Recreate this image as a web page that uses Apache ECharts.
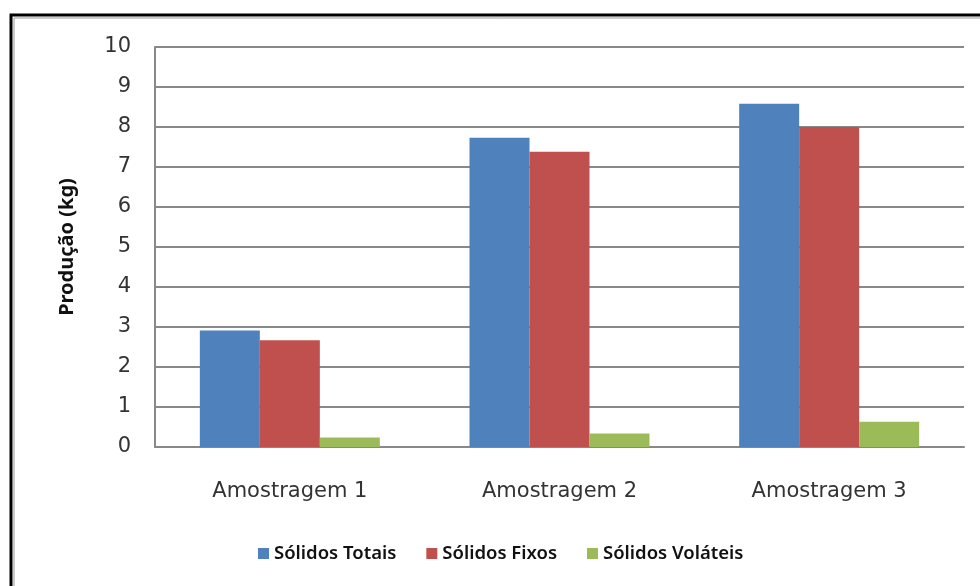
<!DOCTYPE html>
<html>
<head>
<meta charset="utf-8">
<script src="https://cdn.jsdelivr.net/npm/echarts@6/dist/echarts.min.js"></script>
<style>
html, body { margin: 0; padding: 0; background: #fff; }
#main { width: 980px; height: 586px; }
</style>
</head>
<body>
<div id="main"></div>
<script>
// dados
var categorias = ['Amostragem 1', 'Amostragem 2', 'Amostragem 3'];
var solidosTotais = [2.91, 7.73, 8.58];
var solidosFixos = [2.67, 7.38, 8.0];
var solidosVolateis = [0.24, 0.34, 0.63];
var nomesSeries = ['Sólidos Totais', 'Sólidos Fixos', 'Sólidos Voláteis'];

var myChart = echarts.init(document.getElementById('main'));

var option = {
    backgroundColor: '#fff',
    color: ['#4F81BD', '#C0504D', '#9BBB59'],
    graphic: [
        {
            type: 'rect',
            shape: { x: 11, y: 15, width: 1000, height: 600 },
            style: { fill: 'none', stroke: '#000', lineWidth: 3 }
        },
        {
            type: 'rect',
            shape: { x: 14, y: 18, width: 1000, height: 600 },
            style: { fill: 'none', stroke: '#999', lineWidth: 1 }
        }
    ],
    grid: { left: 155, top: 47, right: 16, bottom: 139 },
    legend: {
        data: nomesSeries,
        bottom: 18,
        left: 253,
        itemWidth: 11,
        itemHeight: 11,
        itemGap: 30,
        icon: 'rect',
        textStyle: { fontFamily: 'Noto Sans', fontWeight: 600, fontSize: 18.5, color: '#111' }
    },
    xAxis: {
        type: 'category',
        data: categorias,
        axisLine: { lineStyle: { color: '#888', width: 2 } },
        axisTick: { show: false },
        axisLabel: { fontFamily: 'DejaVu Sans', fontSize: 21, color: '#333', margin: 34 }
    },
    yAxis: {
        type: 'value',
        min: 0,
        max: 10,
        interval: 1,
        name: 'Produção (kg)',
        nameLocation: 'middle',
        nameGap: 78,
        nameTextStyle: { fontFamily: 'Noto Sans', fontWeight: 'bold', fontSize: 20, color: '#111' },
        axisLine: { show: true, lineStyle: { color: '#888', width: 2 } },
        axisTick: { show: false },
        splitLine: { lineStyle: { color: '#888', width: 2 } },
        axisLabel: { fontFamily: 'DejaVu Sans', fontSize: 21, color: '#333', margin: 24 }
    },
    series: [
        { name: nomesSeries[0], type: 'bar', data: solidosTotais, barWidth: 60, barGap: '0%' },
        { name: nomesSeries[1], type: 'bar', data: solidosFixos, barWidth: 60, barGap: '0%' },
        { name: nomesSeries[2], type: 'bar', data: solidosVolateis, barWidth: 60, barGap: '0%' }
    ]
};

myChart.setOption(option);
</script>
</body>
</html>
